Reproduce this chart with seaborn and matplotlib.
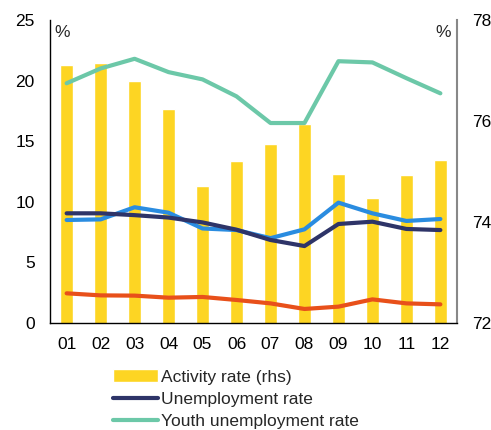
import numpy as np
import pandas as pd
import seaborn as sns
import matplotlib.pyplot as plt

# Data
months = ["01", "02", "03", "04", "05", "06", "07", "08", "09", "10", "11", "12"]
activity = [77.11, 77.14, 76.79, 76.24, 74.71, 75.20, 75.54, 75.95, 74.95, 74.48, 74.94, 75.23]
unemployment = [9.05, 9.05, 8.9, 8.7, 8.3, 7.7, 6.85, 6.35, 8.17, 8.36, 7.76, 7.67]
youth = [19.78, 21.0, 21.8, 20.7, 20.1, 18.7, 16.5, 16.5, 21.6, 21.5, 20.2, 18.95]
blue_series = [8.5, 8.55, 9.55, 9.1, 7.8, 7.67, 7.0, 7.73, 9.93, 9.05, 8.42, 8.58]
orange_series = [2.45, 2.28, 2.26, 2.09, 2.15, 1.9, 1.62, 1.16, 1.35, 1.95, 1.62, 1.54]

sns.set_style("white")
plt.rcParams['font.family'] = ['Liberation Sans', 'DejaVu Sans']
fs = 12.5

fig = plt.figure(figsize=(4.91, 4.30), dpi=100)
ax = fig.add_axes([0.1018, 0.2488, 0.829, 0.7047])
ax2 = ax.twinx()

df = pd.DataFrame({"month": months, "activity": activity})
sns.barplot(data=df, x="month", y="activity", ax=ax2, color="#FDD523",
            saturation=1, width=0.4, label="Activity rate (rhs)")
ax2.set_ylim(72, 78)
ax2.set_yticks([72, 74, 76, 78])

x = np.arange(len(months))
sns.lineplot(x=x, y=orange_series, ax=ax, color="#E8501A", linewidth=3)
sns.lineplot(x=x, y=blue_series, ax=ax, color="#2A8CE0", linewidth=3)
sns.lineplot(x=x, y=unemployment, ax=ax, color="#2E3468", linewidth=3,
             label="Unemployment rate")
sns.lineplot(x=x, y=youth, ax=ax, color="#6CC8A8", linewidth=3,
             label="Youth unemployment rate")

ax.set_zorder(ax2.get_zorder() + 1)
ax.patch.set_visible(False)

ax.set_ylim(0, 25)
ax.set_yticks([0, 5, 10, 15, 20, 25])
ax.set_xlim(-0.49, 11.49)
ax.set_xticks(x)
ax.set_xticklabels(months)
ax.set_xlabel("")
ax.set_ylabel("")
ax2.set_xlabel("")
ax2.set_ylabel("")

for a in (ax, ax2):
    a.tick_params(axis="both", length=0, labelsize=fs, colors="black")
    a.spines["top"].set_visible(False)
ax.tick_params(axis="x", pad=10)
ax.tick_params(axis="y", pad=11)
ax2.tick_params(axis="y", pad=11)
ax.spines["left"].set_color("black")
ax.spines["bottom"].set_color("black")
ax.spines["right"].set_visible(False)
ax2.spines["left"].set_visible(False)
ax2.spines["bottom"].set_visible(False)
ax2.spines["right"].set_color("#888888")
for s in ("left", "bottom"):
    ax.spines[s].set_linewidth(1)
ax2.spines["right"].set_linewidth(1.5)

ax.text(0.012, 0.985, "%", transform=ax.transAxes, ha="left", va="top", fontsize=fs)
ax.text(0.985, 0.985, "%", transform=ax.transAxes, ha="right", va="top", fontsize=fs)

if ax.get_legend():
    ax.get_legend().remove()
h1, l1 = ax2.get_legend_handles_labels()
h2, l2 = ax.get_legend_handles_labels()
if ax2.get_legend():
    ax2.get_legend().remove()
fig.legend(h1 + h2, l1 + l2, loc="upper left", bbox_to_anchor=(0.23, 0.141),
           frameon=False, fontsize=fs, handlelength=2.6, handletextpad=0.15,
           labelspacing=0.4, borderaxespad=0, borderpad=0)

fig.savefig("out.png", dpi=100)
